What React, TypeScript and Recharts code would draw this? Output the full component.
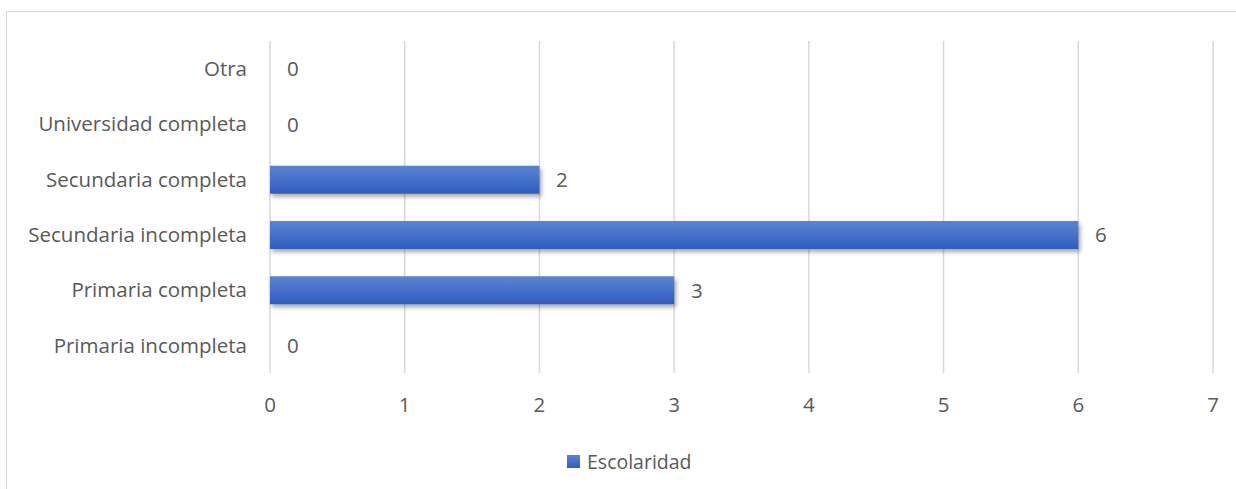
import React from 'react';
import {
  Bar,
  BarChart,
  CartesianGrid,
  LabelList,
  Legend,
  XAxis,
  YAxis,
} from 'recharts';

// Education levels, listed top to bottom
const levels = [
  'Otra',
  'Universidad completa',
  'Secundaria completa',
  'Secundaria incompleta',
  'Primaria completa',
  'Primaria incompleta',
];
const counts = [0, 0, 2, 6, 3, 0];
const xTicks = [0, 1, 2, 3, 4, 5, 6, 7];
const seriesName = 'Escolaridad';

const data = levels.map((name, i) => ({ name, value: counts[i] }));

const textColor = '#595959';
const gridColor = '#d9d9d9';
const fontFamily = '"Open Sans", sans-serif';
const fontSize = 20.5;

function LegendContent() {
  return (
    <div style={{ display: 'flex', alignItems: 'center', fontFamily }}>
      <span
        style={{
          width: 13,
          height: 13,
          background: 'linear-gradient(#5b84d2, #2e5dbf)',
          marginRight: 7,
        }}
      />
      <span style={{ fontSize: 19.5, color: textColor }}>{seriesName}</span>
    </div>
  );
}

// value label to the right of each bar end, zero values included
function ValueLabel(props: any) {
  const { x, y, width, height, value } = props;
  return (
    <text
      x={Number(x) + Math.round(Number(width)) + 17}
      y={Number(y) + Number(height) / 2}
      dy="0.35em"
      fill={textColor}
      fontSize={fontSize}
      fontFamily={fontFamily}
    >
      {String(value)}
    </text>
  );
}

export default function App() {
  return (
    <div
      style={{
        position: 'absolute',
        left: 0,
        top: 0,
        width: 1236,
        height: 489,
        overflow: 'hidden',
        background: '#fff',
        fontFamily,
      }}
    >
      <div
        style={{
          position: 'absolute',
          left: 6,
          top: 11,
          width: 1260,
          height: 500,
          border: `1.5px solid ${gridColor}`,
        }}
      />
      <BarChart
        width={1236}
        height={489}
        data={data}
        layout="vertical"
        margin={{ top: 41, right: 23, bottom: 52, left: 0 }}
        style={{ position: 'absolute', left: 0, top: 0 }}
      >
        <defs>
          <linearGradient id="barFill" x1="0" y1="0" x2="0" y2="1">
            <stop offset="0%" stopColor="#5b84d2" />
            <stop offset="100%" stopColor="#2e5dbf" />
          </linearGradient>
          <filter id="barShadow" x="-5%" y="-30%" width="110%" height="180%">
            <feDropShadow dx="2" dy="3" stdDeviation="2" floodColor="#000" floodOpacity="0.35" />
          </filter>
        </defs>
        <CartesianGrid horizontal={false} stroke={gridColor} strokeWidth={1.5} />
        <XAxis
          type="number"
          domain={[0, 7]}
          ticks={xTicks}
          axisLine={false}
          tickLine={false}
          tickSize={0}
          tickMargin={24}
          height={40}
          tick={{ fill: textColor, fontSize, fontFamily }}
        />
        <YAxis
          type="category"
          dataKey="name"
          width={270}
          axisLine={false}
          tickLine={false}
          tickSize={0}
          tickMargin={23}
          tick={{ fill: textColor, fontSize, fontFamily }}
        />
        <Legend
          verticalAlign="bottom"
          content={<LegendContent />}
          wrapperStyle={{ left: 567, top: 448, width: 'auto', height: 24 }}
        />
        <Bar
          dataKey="value"
          name={seriesName}
          fill="url(#barFill)"
          barSize={28}
          minPointSize={0.01}
          filter="url(#barShadow)"
          isAnimationActive={false}
        >
          <LabelList dataKey="value" content={ValueLabel} />
        </Bar>
      </BarChart>
    </div>
  );
}
